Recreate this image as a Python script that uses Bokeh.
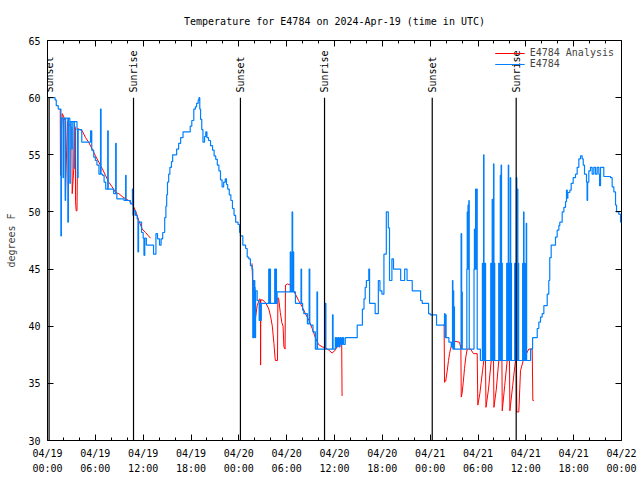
import math
from bokeh.plotting import figure
from bokeh.models import FixedTicker, LinearAxis, Range1d, Legend, LegendItem
from bokeh.core.properties import value
from bokeh.embed import file_html
from bokeh.resources import INLINE

FONT = "DejaVu Sans Mono"

title_text = "Temperature for E4784 on 2024-Apr-19 (time in UTC)"
y_label = "degrees F"
obs_name = "E4784"
ana_name = "E4784 Analysis"

# x axis: hours since 2024-04-19 00:00 UTC
tick_hours = [0, 6, 12, 18, 24, 30, 36, 42, 48, 54, 60, 66, 72]
tick_labels = ["04/19\n00:00", "04/19\n06:00", "04/19\n12:00", "04/19\n18:00",
               "04/20\n00:00", "04/20\n06:00", "04/20\n12:00", "04/20\n18:00",
               "04/21\n00:00", "04/21\n06:00", "04/21\n12:00", "04/21\n18:00",
               "04/22\n00:00"]
minor_hours = [0, 2, 4, 6, 8, 10, 12, 14, 16, 18, 20, 22, 24, 26, 28, 30, 32, 34, 36,
               38, 40, 42, 44, 46, 48, 50, 52, 54, 56, 58, 60, 62, 64, 66, 68, 70, 72]
y_ticks = [30, 35, 40, 45, 50, 55, 60, 65]

event_hours = [0.2, 10.79, 24.2, 34.75, 48.26, 58.79]
event_labels = ["Sunset", "Sunrise", "Sunset", "Sunrise", "Sunset", "Sunrise"]
event_line_top = 60.0
event_label_y = 60.45

# observations (stepped)
obs_hours = [
    0.0, 0.95, 1.1, 1.35, 1.68, 1.74, 1.95, 2.0, 2.22, 2.27, 2.55, 2.62, 2.8, 2.86,
    3.05, 3.1, 3.32, 3.38, 3.7, 3.76, 3.84, 4.3, 5.4, 5.55, 5.8, 6.0, 6.2, 6.45,
    6.65, 6.72, 6.9, 7.1, 7.3, 7.55, 7.62, 8.3, 8.55, 8.62, 8.7, 9.6, 9.8, 9.86,
    10.4, 10.65, 10.72, 10.85, 11.05, 11.25, 11.35, 11.42, 11.8, 12.0, 12.1, 12.2,
    12.4, 13.3, 13.6, 13.8, 14.05, 14.25, 14.45, 14.7, 14.85, 14.95, 15.05, 15.2,
    15.35, 15.55, 15.7, 16.2, 16.45, 16.7, 17.0, 17.9, 18.1, 18.35, 18.55, 18.7,
    18.9, 19.0, 19.1, 19.2, 19.35, 19.5, 19.7, 19.85, 20.0, 20.2, 20.45, 20.7,
    20.9, 21.1, 21.3, 21.5, 21.7, 21.9, 22.1, 22.3, 22.45, 22.6, 22.8, 23.0, 23.2,
    23.4, 23.6, 23.9, 24.1,
    24.2, 24.5, 24.85, 25.05, 25.25, 25.45, 25.67, 25.75, 25.8, 25.85, 25.9, 26.0,
    26.05, 26.1, 26.3, 26.55, 26.62, 26.75, 26.82, 27.75, 27.82, 27.9, 27.97, 28.5,
    28.58, 28.65, 28.72, 28.8, 30.45, 30.52, 30.68, 30.75, 30.82, 30.88, 31.1,
    31.8, 31.87, 32.0, 32.15, 32.6, 32.82, 32.9, 33.0, 33.3, 33.6, 33.8, 33.87,
    34.85, 34.92, 35.75, 35.82, 36.1, 36.25, 36.4, 36.55, 36.7, 36.85, 37.0,
    37.15, 37.35, 38.85, 39.5, 39.7, 39.85, 40.0, 40.3, 40.4, 41.1, 41.5, 41.7,
    41.95, 42.2, 42.5, 42.75, 42.9, 43.2, 43.4, 44.3, 44.8, 45.1, 45.75, 46.8,
    47.0, 47.8, 48.0, 48.8,
    49.8, 49.87, 49.93, 50.0, 50.35, 50.65, 50.8, 50.85, 50.9, 50.95, 51.0, 51.05,
    51.88, 51.95, 51.98, 52.03, 52.6, 52.65, 52.7, 52.75, 52.8, 52.85, 52.9, 53.5,
    53.55, 53.6, 53.7, 53.75, 53.85, 53.9, 54.3, 54.55, 54.6, 54.65, 54.7, 54.75,
    54.8, 54.85, 54.9, 54.95, 55.6, 55.65, 55.72, 55.78, 55.83, 55.9, 55.95, 56.0,
    56.05, 56.1, 56.6, 56.65, 56.72, 56.8, 56.85, 56.9, 56.95, 57.0, 57.05, 57.6,
    57.65, 57.72, 57.8, 57.85, 57.95, 58.05, 58.1, 58.15, 58.2, 58.6, 58.65,
    58.75, 58.82, 58.87, 58.95, 59.0, 59.05, 59.1, 59.6, 59.65, 59.72, 59.77,
    59.85, 59.9, 60.05, 60.1, 60.6, 60.85,
    61.43, 61.63, 61.84, 62.05, 62.26, 62.68, 62.88, 63.0, 63.18, 63.72, 63.93,
    64.14, 64.26, 64.56, 64.77, 64.98, 65.1, 65.2, 65.27, 65.52, 65.69, 65.94,
    66.23, 66.44, 66.65, 66.86, 67.07, 67.2, 67.36, 67.61, 67.68, 67.75, 67.9,
    68.11, 68.32, 68.53, 68.74, 68.95, 69.16, 69.25, 69.37, 69.58, 69.78, 70.62,
    70.83, 71.04, 71.25, 71.38, 71.66, 71.88, 72.0]
obs_temps = [
    60.0, 59.8, 59.3, 59.0, 47.9, 58.2, 53.0, 58.2, 51.0, 58.2, 49.1, 58.2, 52.5, 57.9,
    55.5, 57.9, 53.8, 57.9, 57.2, 53.0, 57.2, 56.1, 57.1, 55.4, 54.8, 54.5, 54.1, 53.3,
    59.0, 53.3, 53.2, 52.6, 52.0, 57.1, 52.0, 51.6, 56.0, 51.6, 51.15, 51.0, 53.2, 51.0,
    50.7, 52.0, 49.7, 50.1, 49.7, 49.4, 46.5, 49.1, 48.2, 47.7, 46.2, 47.7,
    47.1, 46.3, 48.1, 47.65, 47.1, 47.65, 48.2, 49.5, 50.5, 51.5, 52.6, 53.3,
    53.9, 54.4, 55.0, 55.5, 56.0, 56.5, 57.0, 57.5, 58.0, 59.0, 59.2, 59.5,
    59.8, 60.0, 59.0, 58.1, 57.2, 56.1, 56.6, 57.0, 56.5, 56.25, 55.8, 55.4,
    54.9, 54.6, 54.1, 53.6, 52.8, 52.2, 52.6, 52.9, 52.4, 52.0, 51.5, 51.0, 50.3,
    49.7, 49.1, 48.9, 48.2,
    47.9, 47.1, 46.8, 46.05, 45.9, 45.3, 45.0, 39.0, 44.0, 39.0, 44.0, 43.4,
    39.0, 43.1, 42.25, 40.5, 42.0, 40.5, 42.0, 45.0, 42.0, 45.0, 42.0, 45.0,
    42.0, 45.0, 42.0, 43.0, 46.5, 43.0, 50.0, 43.0, 46.5, 43.0, 42.0,
    45.0, 42.0, 41.4, 41.1, 40.2, 45.0, 40.2, 40.1, 39.5, 38.0, 43.0, 38.0,
    42.0, 38.0, 41.0, 38.0, 39.0, 38.2, 39.0, 38.2, 39.0, 38.4, 39.0,
    38.4, 39.0, 40.1, 41.5, 42.4, 43.4, 44.0, 45.0, 42.0, 41.1, 44.0, 43.1,
    42.8, 46.3, 50.0, 48.6, 44.0, 45.9, 45.0, 44.0, 45.0, 44.0, 43.1, 42.25,
    42.0, 41.1, 41.0, 40.1,
    41.1, 39.0, 41.0, 39.0, 38.6, 38.2, 44.0, 38.0, 43.1, 38.0, 41.7, 38.0,
    48.1, 38.0, 43.0, 38.0, 45.0, 50.0, 45.0, 50.6, 45.0, 51.0, 38.0, 45.0,
    48.5, 45.0, 52.0, 45.0, 52.0, 38.0, 37.0, 45.5, 37.0, 45.5, 55.0, 37.0,
    45.5, 37.0, 45.5, 37.0, 45.5, 37.0, 45.5, 51.1, 37.0, 45.5, 54.2, 37.0,
    45.5, 37.0, 45.5, 37.0, 45.5, 53.2, 37.0, 54.1, 37.0, 45.5, 37.0, 45.5,
    37.0, 45.5, 54.1, 37.0, 45.5, 53.0, 37.0, 45.5, 37.0, 45.5, 37.0,
    45.5, 53.0, 37.0, 52.0, 37.0, 45.5, 37.0, 45.5, 37.0, 50.0, 37.0,
    45.5, 37.0, 49.0, 37.0, 38.0, 39.0,
    39.8, 40.35, 40.8, 41.1, 41.8, 42.8, 44.0, 46.0, 47.1, 47.8, 48.4,
    48.8, 49.1, 50.0, 50.4, 50.9, 51.9, 51.2, 51.7, 51.9, 52.5, 53.0,
    53.3, 53.9, 54.65, 54.9, 54.65, 54.1, 53.3, 52.6, 51.0, 52.6, 53.6,
    53.9, 53.3, 53.9, 53.3, 53.9, 53.3, 52.3, 53.9, 53.9, 53.1, 53.0,
    52.2, 51.75, 50.6, 50.0, 49.8, 49.1, 49.1]

NaN = float("nan")
# analysis (three night-time runs, separated by gaps)
ana_hours = [
    1.6, 1.63, 1.75, 1.85, 2.05, 2.2, 2.25, 2.4, 2.5, 2.9, 3.05, 3.1, 3.3, 3.4,
    3.5, 3.52, 3.6, 3.7, 3.8, 4.35, 4.78, 5.2, 5.6, 6.02, 6.44, 6.86, 7.27, 7.69,
    8.1, 8.53, 8.95, 9.37, 9.79, 10.2, 10.63, 11.04, 11.45, 11.88, 12.3, 12.92,
    NaN,
    25.65, 25.75, 25.85, 25.95, 26.3, 26.6, 26.72, 26.73, 26.75, 27.0, 27.4, 27.7,
    27.8, 28.0, 28.2, 28.4, 28.55, 28.6, 28.85, 28.9, 29.0, 29.2, 29.4, 29.55,
    29.65, 29.8, 29.85, 30.1, 30.5, 30.7, 31.1, 31.5, 31.95, 32.35, 32.8, 33.2,
    33.6, 34.0, 34.45, 34.9, 35.3, 35.7, 36.1, 36.5, 36.75, 36.9, 36.95,
    NaN,
    49.75, 49.8, 49.95, 50.14, 50.3, 50.43, 50.55, 50.76, 50.97, 51.68, 51.85,
    51.9, 52.0, 52.15, 52.31, 52.47, 52.65, 53.06, 53.44, 53.9, 53.98, 54.23,
    54.4, 54.57, 54.73, 54.94, 55.0, 55.32, 55.66, 55.95, 56.0, 56.3, 56.61,
    57.0, 57.04, 57.35, 57.66, 57.95, 58.0, 58.35, 58.7, 58.83, 58.87, 59.12,
    59.33, 59.67, 60.08, 60.37, 60.8, 60.88, 61.0]
ana_temps = [
    59.0, 53.2, 57.0, 58.6, 58.3, 58.0, 51.4, 55.4, 57.9, 57.5, 57.4, 51.6, 53.8, 57.5,
    57.4, 50.9, 50.1, 50.1, 57.3, 57.1, 56.5, 56.05, 55.5, 54.9, 54.35, 53.8, 53.2, 52.6,
    52.2, 51.7, 51.6, 51.35, 51.15, 51.0, 50.7, 50.1, 49.25, 48.5, 48.2, 47.7,
    NaN,
    45.5, 43.5, 41.0, 40.0, 41.8, 42.4, 42.3, 36.6, 42.3, 42.3, 42.0, 41.6,
    41.4, 40.8, 40.0, 38.5, 37.2, 37.0, 37.0, 42.5, 42.4, 41.2, 40.3, 40.0,
    38.2, 38.0, 43.6, 43.7, 43.6, 43.3, 42.8, 42.25, 41.7, 41.1, 40.5, 39.8,
    39.0, 38.4, 38.2, 38.1, 37.9, 37.65, 37.9, 38.5, 38.6, 38.6, 33.9,
    NaN,
    40.2, 35.1, 35.2, 36.1, 37.0, 37.6, 38.0, 38.5, 38.7, 38.6, 38.1,
    33.8, 34.1, 35.1, 36.3, 37.3, 38.0, 38.0, 37.6, 37.6, 33.1, 34.1,
    35.1, 36.1, 37.0, 37.0, 32.9, 34.5, 37.0, 37.0, 32.9, 34.5, 37.0,
    37.0, 32.6, 34.8, 37.0, 37.0, 32.6, 34.8, 37.0, 37.0, 32.5, 32.5,
    36.1, 37.0, 37.6, 38.0, 38.0, 33.5, 33.5]

x_lo, x_hi = tick_hours[0], tick_hours[-1]
y_lo, y_hi = y_ticks[0], y_ticks[-1]

p = figure(width=640, height=480, x_range=Range1d(x_lo, x_hi), y_range=Range1d(y_lo, y_hi),
           output_backend="svg", toolbar_location=None, title=title_text,
           min_border_left=47, min_border_right=19, min_border_top=40, min_border_bottom=40)
p.background_fill_color = "white"
p.border_fill_color = "white"
p.outline_line_color = "black"
p.outline_line_width = 1
p.grid.visible = False

p.title.align = "center"
p.title.text_font = FONT
p.title.text_font_size = "10px"
p.title.text_font_style = "normal"
p.title.text_color = "black"
p.title.standoff = 27

r_ana = p.line(ana_hours, ana_temps, line_color="#ff0000", line_width=1)
r_obs = p.step(obs_hours, obs_temps, mode="after", line_color="#0080ff", line_width=1.2)

n_ev = len(event_hours)
p.segment(x0=event_hours, y0=[y_lo] * n_ev, x1=event_hours, y1=[event_line_top] * n_ev,
          line_color="black", line_width=1.2)
p.text(x=event_hours, y=[event_label_y] * n_ev, text=event_labels, angle=math.pi / 2,
       text_align="left", text_baseline="middle", text_font=value(FONT),
       text_font_size="10px", text_color="black")

xa = p.xaxis[0]
xa.ticker = FixedTicker(ticks=tick_hours, minor_ticks=minor_hours)
xa.major_label_overrides = {h: lab for h, lab in zip(tick_hours, tick_labels)}
ya = p.yaxis[0]
ya.ticker = FixedTicker(ticks=y_ticks)
ya.axis_label = y_label
for ax in (xa, ya):
    ax.axis_line_color = None
    ax.major_tick_in = 6
    ax.major_tick_out = 0
    ax.minor_tick_in = 3
    ax.minor_tick_out = 0
    ax.major_tick_line_color = "black"
    ax.minor_tick_line_color = "black"
    ax.major_label_text_font = FONT
    ax.major_label_text_font_size = "10px"
    ax.major_label_text_color = "black"
    ax.axis_label_text_font = FONT
    ax.axis_label_text_font_size = "10px"
    ax.axis_label_text_font_style = "normal"
ya.minor_tick_in = 0
ya.major_label_standoff = 7
ya.axis_label_standoff = 8
xa.major_label_standoff = 7
xa.major_label_text_line_height = 1.45

# mirrored ticks on the top and right borders (no labels drawn)
ax_r = LinearAxis(ticker=FixedTicker(ticks=y_ticks), axis_line_color=None,
                  major_tick_in=6, major_tick_out=0, minor_tick_in=0, minor_tick_out=0,
                  major_label_text_color=None, major_label_text_font_size="1px",
                  major_label_standoff=0)
p.add_layout(ax_r, "right")
ax_t = LinearAxis(ticker=FixedTicker(ticks=tick_hours, minor_ticks=minor_hours),
                  axis_line_color=None, major_tick_in=6, major_tick_out=0,
                  minor_tick_in=3, minor_tick_out=0,
                  major_label_text_color=None, major_label_text_font_size="1px",
                  major_label_standoff=0)
p.add_layout(ax_t, "above")

legend = Legend(items=[LegendItem(label=ana_name, renderers=[r_ana]),
                       LegendItem(label=obs_name, renderers=[r_obs])],
                location="top_right", label_text_font=FONT, label_text_font_size="10px",
                background_fill_alpha=0, border_line_alpha=0, glyph_width=30,
                glyph_height=10, label_height=10, spacing=0, padding=3, margin=4)
p.add_layout(legend)

open("out.html", "w").write(file_html(p, INLINE))
